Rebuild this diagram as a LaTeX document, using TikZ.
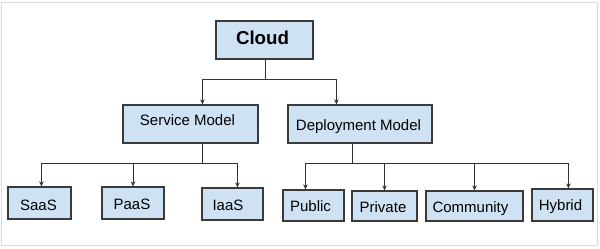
\documentclass[tikz,border=0pt]{standalone}
\usepackage{fontspec}
\setmainfont{Liberation Sans}
\usetikzlibrary{arrows.meta}
\definecolor{boxfill}{HTML}{CFE2F3}
\definecolor{bordercol}{HTML}{3A3A3A}
\definecolor{linecol}{HTML}{333333}
\definecolor{framecol}{HTML}{DADADA}
\tikzset{
  box/.style={draw=bordercol, fill=boxfill, line width=1.2pt, inner sep=0pt,
    text depth=0pt, font=\fontsize{15}{18}\selectfont},
  conn/.style={draw=linecol, line width=1pt},
  arr/.style={conn, -{Stealth[length=5pt,width=4.5pt]}},
}
\begin{document}
\begin{tikzpicture}[x=1pt,y=-1pt]
\useasboundingbox (0,0) rectangle (600,249);
\fill[white] (0,0) rectangle (600,249);
\draw[framecol, line width=1pt] (1.5,2.5) rectangle (597.5,245);

\node[box, minimum width=97pt, minimum height=38pt, text height=10pt,
  font=\fontsize{18.7}{22}\selectfont\bfseries] (cloud) at (264.5,40) {Cloud\kern4pt};
\node[box, minimum width=135pt, minimum height=38pt, text height=2pt] (sm) at (190.5,124) {Service Model\kern6pt};
\node[box, minimum width=144pt, minimum height=38pt, text height=12pt] (dm) at (360,124) {Deployment Model\kern3pt};

\node[box, minimum width=63pt, minimum height=32pt, text height=14pt] (saas) at (39.5,203) {SaaS\kern2pt};
\node[box, minimum width=62pt, minimum height=32pt, text height=12pt] (paas) at (133,203) {PaaS\kern2pt};
\node[box, minimum width=61pt, minimum height=32pt, text height=12pt] (iaas) at (232.5,204) {IaaS\kern9pt};
\node[box, minimum width=61pt, minimum height=31pt, text height=12.4pt] (public) at (313.5,205.5) {Public\kern6pt};
\node[box, minimum width=65pt, minimum height=30pt, text height=12pt] (private) at (384.5,206) {Private\kern3pt};
\node[box, minimum width=97pt, minimum height=30pt, text height=12.6pt] (community) at (474.5,206) {Community\kern8pt};
\node[box, minimum width=61pt, minimum height=32pt, text height=11.4pt] (hybrid) at (562.5,205) {Hybrid\kern4pt};

% level 1
\coordinate (j1) at (265,79);
\draw[conn] (cloud.south -| j1) -- (j1);
\draw[arr] (j1) -| ([xshift=80pt]sm.north west);
\draw[arr] (j1) -| ([xshift=49pt]dm.north west);

% service model
\coordinate (j2) at (202,163);
\draw[conn] (sm.south -| j2) -- (j2);
\draw[arr] (j2) -| ([xshift=34pt]saas.north west);
\draw[arr] (j2) -| (paas.north);
\draw[arr] (j2) -| ([xshift=36pt]iaas.north west);

% deployment model
\coordinate (j3) at (352,163);
\draw[conn] (dm.south -| j3) -- (j3);
\draw[arr] (j3) -| ([xshift=23pt]public.north west);
\draw[arr] (j3) -| (private.north);
\draw[arr] (j3) -| (community.north);
\draw[arr] (j3) -| ([xshift=37pt]hybrid.north west);
\end{tikzpicture}
\end{document}
